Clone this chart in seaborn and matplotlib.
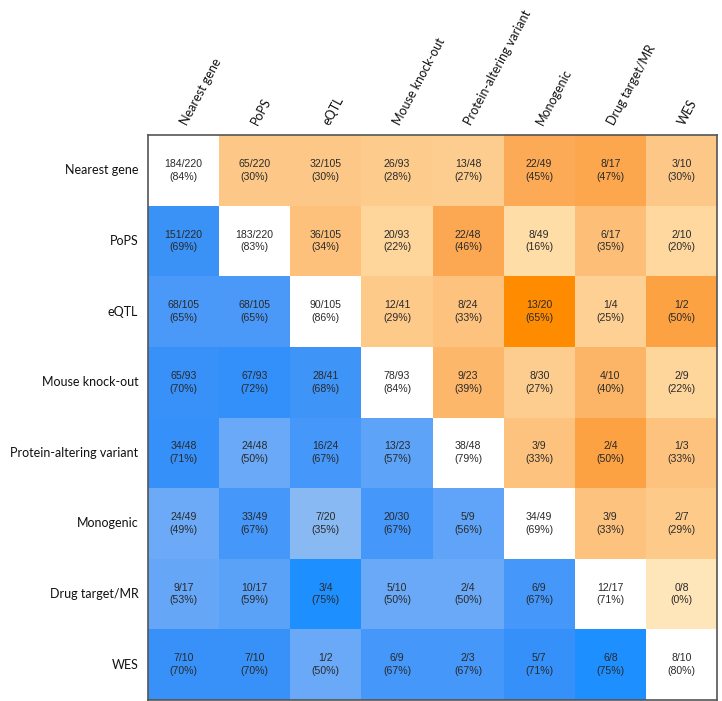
import numpy as np
import pandas as pd
import matplotlib
matplotlib.use('Agg')
import matplotlib.pyplot as plt
import matplotlib.transforms as mtransforms
from matplotlib.colors import LinearSegmentedColormap
import seaborn as sns

# categories
methods = ['Nearest gene', 'PoPS', 'eQTL', 'Mouse knock-out',
           'Protein-altering variant', 'Monogenic', 'Drug target/MR', 'WES']

# numerators (row method agrees with column method)
hits = [
    [184, 65, 32, 26, 13, 22, 8, 3],
    [151, 183, 36, 20, 22, 8, 6, 2],
    [68, 68, 90, 12, 8, 13, 1, 1],
    [65, 67, 28, 78, 9, 8, 4, 2],
    [34, 24, 16, 13, 38, 3, 2, 1],
    [24, 33, 7, 20, 5, 34, 3, 2],
    [9, 10, 3, 5, 2, 6, 12, 0],
    [7, 7, 1, 6, 2, 5, 6, 8],
]
# denominators
totals = [
    [220, 220, 105, 93, 48, 49, 17, 10],
    [220, 220, 105, 93, 48, 49, 17, 10],
    [105, 105, 105, 41, 24, 20, 4, 2],
    [93, 93, 41, 93, 23, 30, 10, 9],
    [48, 48, 24, 23, 48, 9, 4, 3],
    [49, 49, 20, 30, 9, 49, 9, 7],
    [17, 17, 4, 10, 4, 9, 17, 8],
    [10, 10, 2, 9, 3, 7, 8, 10],
]

num = np.array(hits)
den = np.array(totals)
pct = np.round(100 * num / den).astype(int)
labels = np.array([[f'{num[i, j]}/{den[i, j]}\n({pct[i, j]}%)'
                    for j in range(8)] for i in range(8)])
df = pd.DataFrame(pct, index=methods, columns=methods)

n = len(methods)
iu = np.triu(np.ones((n, n), dtype=bool), 1)
il = np.tril(np.ones((n, n), dtype=bool), -1)
diag = np.eye(n, dtype=bool)

# upper triangle in oranges, lower triangle in blues, diagonal white
oranges = LinearSegmentedColormap.from_list('or', [
    (0.0, '#FFE6BA'), (0.25, '#FFDDA6'), (0.45, '#FDCA8A'),
    (0.72, '#FCA750'), (1.0, '#FF8C00')])
blues = LinearSegmentedColormap.from_list('bl', [
    (0.0, '#88B9F2'), (0.375, '#6AA9F7'), (0.625, '#58A0F8'),
    (0.8, '#4597FA'), (0.85, '#3A91F6'), (0.92, '#3590FA'), (1.0, '#1E8FFF')])

plt.rcParams['font.family'] = ['Lato', 'DejaVu Sans']

fig = plt.figure(figsize=(7.22, 7.01), dpi=100)
ax = fig.add_axes([148 / 722, 1 / 701, 569 / 722, 565 / 701])

kw = dict(annot=labels, fmt='', cbar=False, linewidths=0, square=False,
          annot_kws={'fontsize': 7.6, 'color': '#2a2a2a',
                     'family': 'Liberation Sans', 'linespacing': 1.35})
sns.heatmap(df, mask=~iu, cmap=oranges, vmin=0, vmax=65, ax=ax, **kw)
sns.heatmap(df, mask=~il, cmap=blues, vmin=35, vmax=75, ax=ax, **kw)
sns.heatmap(df, mask=~diag, cmap=LinearSegmentedColormap.from_list('w', ['white', 'white']),
            ax=ax, **kw)

ax.xaxis.tick_top()
ax.set_xticks(np.arange(n) + 0.5)
ax.set_xticklabels(methods, rotation=62, ha='left', va='center',
                   rotation_mode='anchor', fontsize=9, color='#111111')
off = mtransforms.ScaledTranslation(-23 / 100, 0, fig.dpi_scale_trans)
for t in ax.get_xticklabels():
    t.set_transform(t.get_transform() + off)
ax.set_yticks(np.arange(n) + 0.5)
ax.set_yticklabels(methods, rotation=0, fontsize=9, color='#111111')
ax.tick_params(axis='both', length=0)
ax.tick_params(axis='x', pad=8)
ax.tick_params(axis='y', pad=7)
ax.set_xlabel('')
ax.set_ylabel('')

for s in ax.spines.values():
    s.set_visible(True)
    s.set_color('#555555')
    s.set_linewidth(1.2)

fig.savefig('out.png', dpi=100)
